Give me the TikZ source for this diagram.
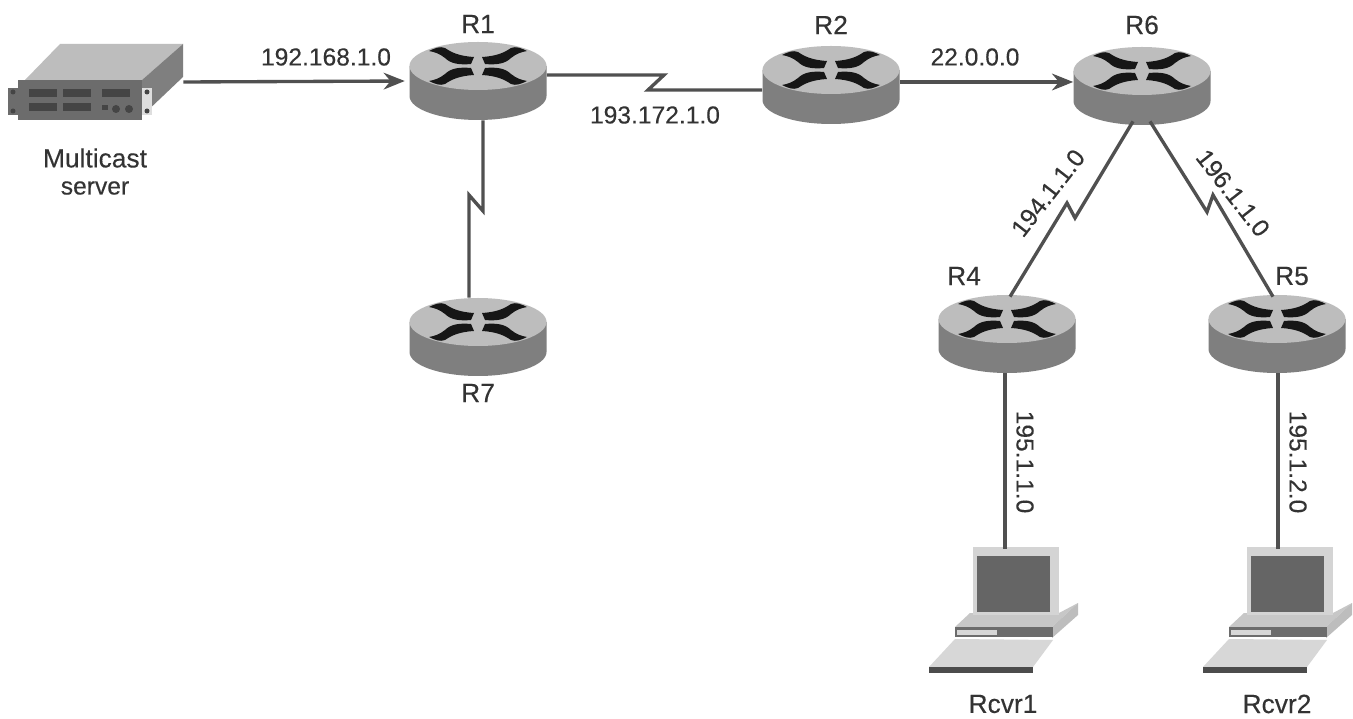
\documentclass[tikz,border=0pt]{standalone}
\usepackage{fontspec}
\setmainfont{Liberation Sans}
\newfontfamily\lblfont[FakeBold=0.25]{Liberation Sans}
\usetikzlibrary{calc,arrows.meta}
\definecolor{lnk}{HTML}{505050}
\definecolor{txt}{HTML}{333333}
\definecolor{rtop}{HTML}{BDBDBD}
\definecolor{rside}{HTML}{7F7F7F}
\definecolor{rblack}{HTML}{161616}
\tikzset{
  every node/.style={text=txt,font=\lblfont\fontsize{14pt}{16pt}\selectfont,inner sep=0pt},
  namelabel/.style={font=\lblfont\fontsize{15pt}{17pt}\selectfont},
  lnkline/.style={draw=lnk,line width=1.9pt,line join=miter},
  arrowline/.style={lnkline,-{Stealth[length=12pt,width=9.5pt]}},
  routerbox/.style={minimum width=2.74cm,minimum height=1.56cm},
  serverbox/.style={minimum width=3.5cm,minimum height=1.52cm},
  laptopbox/.style={minimum width=2.98cm,minimum height=2.52cm}
}
% swoosh of a router, drawn for the top-left quadrant
\newcommand{\swoosh}{\fill[rblack] (-49,-15) .. controls (-43,-18) and (-38,-20) .. (-33,-18) .. controls (-27,-14) and (-20,-10) .. (-4,-9) -- (-7,-2) .. controls (-18,-1) and (-27,-2) .. (-33,-8) .. controls (-38,-12) and (-43,-14) .. (-49,-15) -- cycle;}
\newcommand{\routerart}[2]{%
  \begin{scope}[shift={(#1,#2)}]
    \fill[rside] (-68.5,0) -- (-68.5,30) arc[x radius=68.5,y radius=-24,start angle=180,end angle=360] -- (68.5,0) -- cycle;
    \fill[rtop] (0,0) ellipse[x radius=68.5,y radius=24];
    \swoosh
    \begin{scope}[xscale=-1] \swoosh \end{scope}
    \begin{scope}[yscale=-1] \swoosh \end{scope}
    \begin{scope}[xscale=-1,yscale=-1] \swoosh \end{scope}
  \end{scope}}
\newcommand{\laptopart}[2]{%
  \begin{scope}[shift={(#1,#2)}]
    % base: top, side, front
    \fill[rtop!85!white] (-18,80) -- (-3,66) -- (86,66) -- (105,56) -- (79,80) -- cycle;
    \fill[rtop] (79,80) -- (105,56) -- (105,68) -- (79,91) -- cycle;
    \fill[rside!85!black] (-18,80) rectangle (80,90);
    \fill[rtop!60!white] (-16,83) rectangle (24,88);
    % screen
    \fill[rtop!65!white] (0,0) rectangle (86,68);
    \fill[rside!80!black] (4,9) rectangle (77,65);
    % keyboard
    \fill[rtop!60!white] (-44,120) -- (-18,92) -- (80,93) -- (60,120) -- cycle;
    \fill[rside!60!black] (-44,120) rectangle (60,126);
  \end{scope}}
\begin{document}
\begin{tikzpicture}[x=0.02cm,y=-0.02cm]
\useasboundingbox (0,0) rectangle (1353,719);
\fill[white] (0,0) rectangle (1353,719);
% server
\node[serverbox] (srv) at (95.5,82) {};
\fill[rtop] (25,80) -- (60,44) -- (183,44) -- (142,80) -- cycle;
\fill[rside] (142,80) -- (183,44) -- (183,77) -- (143,115) -- cycle;
\fill[rside!85!black] (8,88) rectangle (18,115);
\fill[rtop!50!white] (142,88) rectangle (152,115);
\fill[rside!85!black] (18,80) rectangle (142,120);
\foreach \sx in {29,63,102}{\fill[rblack!80] (\sx,89) rectangle ++(28,8);}
\foreach \sx in {29,63}{\fill[rblack!80] (\sx,103) rectangle ++(28,8);}
\fill[rblack!80] (102,105) rectangle ++(6,5);
\fill[rblack!80] (116,109) circle (4);
\fill[rblack!80] (129,109) circle (4);
\foreach \sx in {13,147}{\fill[rblack!80] (\sx,92) circle (2.5); \fill[rblack!80] (\sx,111) circle (2.5);}
% routers
\routerart{478}{66}
\routerart{831}{70}
\routerart{1142}{71}
\routerart{478}{322}
\routerart{1007}{319}
\routerart{1277}{319}
\node[routerbox] (R1) at (478,81) {};
\node[routerbox] (R2) at (831,85) {};
\node[routerbox] (R6) at (1142,86) {};
\node[routerbox] (R7) at (478,337) {};
\node[routerbox] (R4) at (1007,334) {};
\node[routerbox] (R5) at (1277,334) {};
% laptops
\laptopart{973}{547}
\laptopart{1247}{547}
\node[laptopbox] (L1) at (1003,610) {};
\node[laptopbox] (L2) at (1277,610) {};
% connector corners
\coordinate (a1) at (664,75);
\coordinate (a2) at (648,90);
\coordinate (b1) at (483,211);
\coordinate (b2) at (469,195);
\coordinate (c1) at (1075,218);
\coordinate (c2) at (1067,203);
\coordinate (d1) at (1207,212);
\coordinate (d2) at (1213,195);
\coordinate (e) at (990,82);
% connectors
\draw[arrowline,shorten >=2.5pt] (srv.east) -- (R1.west);
\draw[arrowline] (R2.east |- e) -- (R6.west |- e);
\draw[lnkline] (R1.east |- a1) -- (a1) -- (a2) -- (a2 -| R2.west);
\draw[lnkline] (R1.south -| b1) -- (b1) -- (b2) -- (R7.north -| b2);
\draw[lnkline] ($(R6.south)+(-9,-4)$) -- (c1) -- (c2) -- ($(R4.north)+(3,2)$);
\draw[lnkline] ($(R6.south)+(8,-4)$) -- (d1) -- (d2) -- ($(R5.north)+(-4,2)$);
\draw[lnkline] ($(R4.south)+(-2,0)$) -- ++(0,176);
\draw[lnkline] ($(R5.south)+(1,0)$) -- ++(0,176);
% labels
\node[namelabel] (tR1) at (478,24) {R1};
\node[namelabel] (tR2) at (831,25) {R2};
\node[namelabel] (tR6) at (1142,25) {R6};
\node[namelabel] (tR7) at (478,393) {R7};
\node[namelabel] (tR4) at (964,276) {R4};
\node[namelabel] (tR5) at (1292,276) {R5};
\node (t1) at (326,57) {192.168.1.0};
\node (t2) at (655,115) {193.172.1.0};
\node (t3) at (975,57) {22.0.0.0};
\node[rotate=52] (t4) at (1048,193) {194.1.1.0};
\node[rotate=-52] (t5) at (1233,193) {196.1.1.0};
\node[rotate=-90] (t6) at (1025,462) {195.1.1.0};
\node[rotate=-90] (t7) at (1298,462) {195.1.2.0};
\node[namelabel] (t8) at (95,158) {Multicast};
\node (t9) at (95,188) {server};
\node[namelabel] (t10) at (1003,704) {Rcvr1};
\node[namelabel] (t11) at (1277,704) {Rcvr2};
\end{tikzpicture}
\end{document}
